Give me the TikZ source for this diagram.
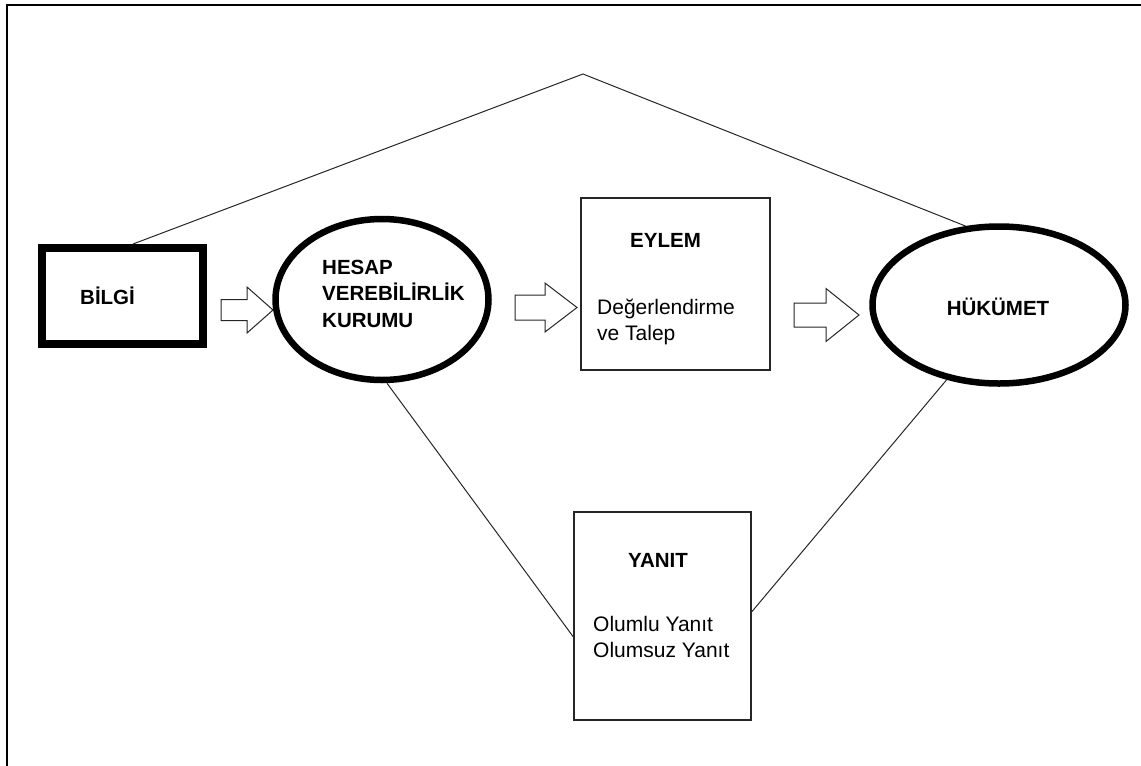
\documentclass[tikz,border=0pt]{standalone}
\usepackage{fontspec}
\setmainfont{Liberation Sans}
\usetikzlibrary{shapes.geometric}
\tikzset{
  frame/.style={line width=2.5pt},
  thickbox/.style={draw, line width=8pt, minimum width=161pt, minimum height=96pt, inner sep=0pt},
  thinbox/.style={draw=black!85, line width=1.2pt, inner sep=0pt},
  oval/.style={draw, ellipse, line width=6.5pt, inner sep=0pt},
  blockarrow/.style={draw=black!85, line width=1pt, fill=white},
  link/.style={draw=black!85, line width=1pt},
  title/.style={font=\fontsize{20.5}{26.5}\selectfont\bfseries, inner sep=0pt, align=left},
  body/.style={font=\fontsize{21}{26}\selectfont, inner sep=0pt, align=left},
}
\begin{document}
\begin{tikzpicture}[x=1pt,y=-1pt]
\useasboundingbox (0,0) rectangle (1141,766);
% frame
\draw[frame] (7,766) -- (7,5) -- (1141,5);
% nodes
\node[thickbox] (bilgi) at (122.5,296) {};
\node[title, anchor=base west] (bilgit) at (80,304) {BİLGİ};
\node[oval, minimum width=213pt, minimum height=161pt] (hesap) at (382,299.5) {};
\node[title, anchor=base west] (hesapt) at (322,327) {HESAP\\VEREBİLİRLİK\\KURUMU};
\node[thinbox, minimum width=189pt, minimum height=172pt] (eylem) at (675.5,284) {};
\node[title, anchor=base west] (eylemt) at (630,247) {EYLEM};
\node[body, anchor=base west] (eylemb) at (597,340) {Değerlendirme\\ve Talep};
\node[oval, minimum width=253pt, minimum height=157pt] (hukumet) at (999,305) {};
\node[title, anchor=base] (hukumett) at (998,315) {HÜKÜMET};
\node[thinbox, minimum width=177pt, minimum height=208pt] (yanit) at (662.5,616) {};
\node[title, anchor=base west] (yanitt) at (628,567) {YANIT};
\node[body, anchor=base west] (yanitb) at (593,657) {Olumlu Yanıt\\Olumsuz Yanıt};
\coordinate (apex) at (583,74);
% connectors
\draw[link] ([xshift=10.5pt]bilgi.north) -- (apex) -- (hukumet.113);
\draw[link] ([xshift=5pt]hesap.south) -- ([yshift=-21pt]yanit.west);
\draw[link] (hukumet.-125) -- ([yshift=4pt]yanit.east);
% block arrows
\draw[blockarrow] (221,299.5) -- (247,299.5) -- (247,287) -- (273,310) -- (247,333) -- (247,320.5) -- (221,320.5) -- cycle;
\draw[blockarrow] (515,295) -- (545,295) -- (545,283) -- (577,307.5) -- (545,332) -- (545,320) -- (515,320) -- cycle;
\draw[blockarrow] (794,303) -- (826,303) -- (826,288.5) -- (859,315) -- (826,341.5) -- (826,327) -- (794,327) -- cycle;
\end{tikzpicture}
\end{document}
